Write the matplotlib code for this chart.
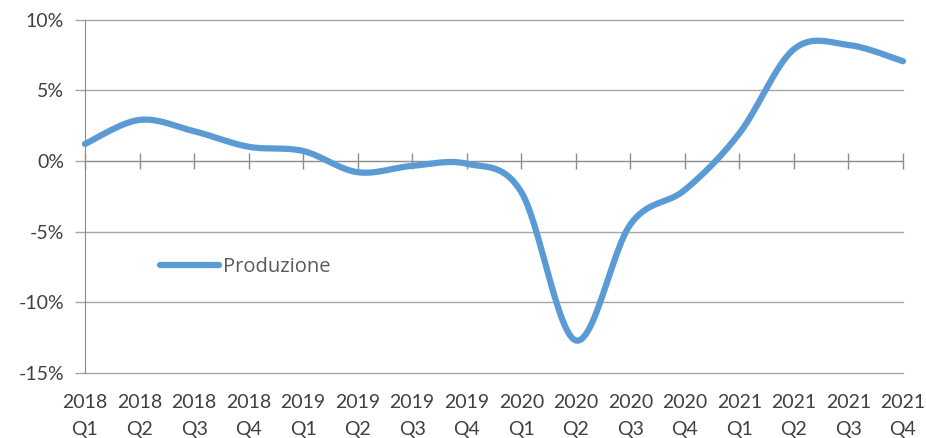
import numpy as np
import matplotlib
matplotlib.use('Agg')
import matplotlib.pyplot as plt
import matplotlib.transforms as mtransforms

# quarterly values, percent
years = ['2018', '2018', '2018', '2018', '2019', '2019', '2019', '2019',
         '2020', '2020', '2020', '2020', '2021', '2021', '2021', '2021']
quarters = ['Q1', 'Q2', 'Q3', 'Q4'] * 4
produzione = [1.2, 2.9, 2.1, 1.0, 0.7, -0.8, -0.35, -0.2,
              -2.2, -12.7, -4.5, -2.05, 1.95, 7.9, 8.2, 7.05]
y_ticks = [-15, -10, -5, 0, 5, 10]

LINE_COLOR = '#5b9bd5'
GRID_COLOR = '#a6a6a6'
AXIS_COLOR = '#8c8c8c'
TEXT_COLOR = '#404040'
TICK_FONT = ['Lato', 'DejaVu Sans']


def smooth(xs, ys, n=30):
    """Excel-like smoothed line (Catmull-Rom as cubic Bezier)."""
    xs = np.asarray(xs, float)
    ys = np.asarray(ys, float)
    px = np.concatenate([[xs[0]], xs, [xs[-1]]])
    py = np.concatenate([[ys[0]], ys, [ys[-1]]])
    out_x, out_y = [], []
    t = np.linspace(0, 1, n)
    for i in range(1, len(px) - 2):
        p0 = np.array([px[i], py[i]])
        p3 = np.array([px[i + 1], py[i + 1]])
        c1 = p0 + (np.array([px[i + 1], py[i + 1]]) - np.array([px[i - 1], py[i - 1]])) / 6
        c2 = p3 - (np.array([px[i + 2], py[i + 2]]) - np.array([px[i], py[i]])) / 6
        b = ((1 - t) ** 3)[:, None] * p0 + (3 * (1 - t) ** 2 * t)[:, None] * c1 \
            + (3 * (1 - t) * t ** 2)[:, None] * c2 + (t ** 3)[:, None] * p3
        out_x.extend(b[:, 0])
        out_y.extend(b[:, 1])
    return np.array(out_x), np.array(out_y)


fig = plt.figure(figsize=(9.26, 4.38), dpi=100)
ax = fig.add_axes([85 / 926, 1 - 373 / 438, (903 - 85) / 926, (373 - 19.5) / 438])

x = np.arange(len(produzione))
sx, sy = smooth(x, produzione)
ax.plot(sx, sy, color=LINE_COLOR, lw=4.5, solid_capstyle='round', label='Produzione',
        zorder=3, clip_on=False)

ax.set_xlim(0, len(produzione) - 1)
ax.set_ylim(-15, 10)

# horizontal gridlines
ax.set_yticks(y_ticks)
ax.set_yticklabels([f'{v}%' for v in y_ticks], family=TICK_FONT, fontsize=14, color=TEXT_COLOR)
ax.yaxis.grid(True, color=GRID_COLOR, lw=1)
for gl in ax.get_ygridlines():
    gl.set_clip_on(False)
ax.set_axisbelow(True)
ax.tick_params(axis='y', direction='out', length=7, width=1, color=GRID_COLOR, pad=8)

for s in ['top', 'right']:
    ax.spines[s].set_visible(False)
ax.spines['left'].set_color(AXIS_COLOR)
ax.spines['bottom'].set_color(AXIS_COLOR)
ax.spines['bottom'].set_position(('data', 0))

ax.set_xticks(x)
ax.set_xticklabels([])
ax.tick_params(axis='x', direction='inout', length=12, width=1, color=AXIS_COLOR)

# category labels below the plot area
trans = mtransforms.blended_transform_factory(ax.transData, ax.transAxes)
for i, (yr, q) in enumerate(zip(years, quarters)):
    ax.text(i, -0.058, f'{yr}\n{q}', transform=trans, ha='center', va='top',
            family=TICK_FONT, fontsize=14, color=TEXT_COLOR, linespacing=1.75)

leg = ax.legend(loc='center left', bbox_to_anchor=(0.092, 0.30), frameon=False,
                borderpad=0, borderaxespad=0, handlelength=2.9, handletextpad=0.2,
                prop={'family': ['Open Sans', 'DejaVu Sans'], 'size': 14.5})
for t in leg.get_texts():
    t.set_color('#595959')

fig.savefig('out.png', dpi=100)
